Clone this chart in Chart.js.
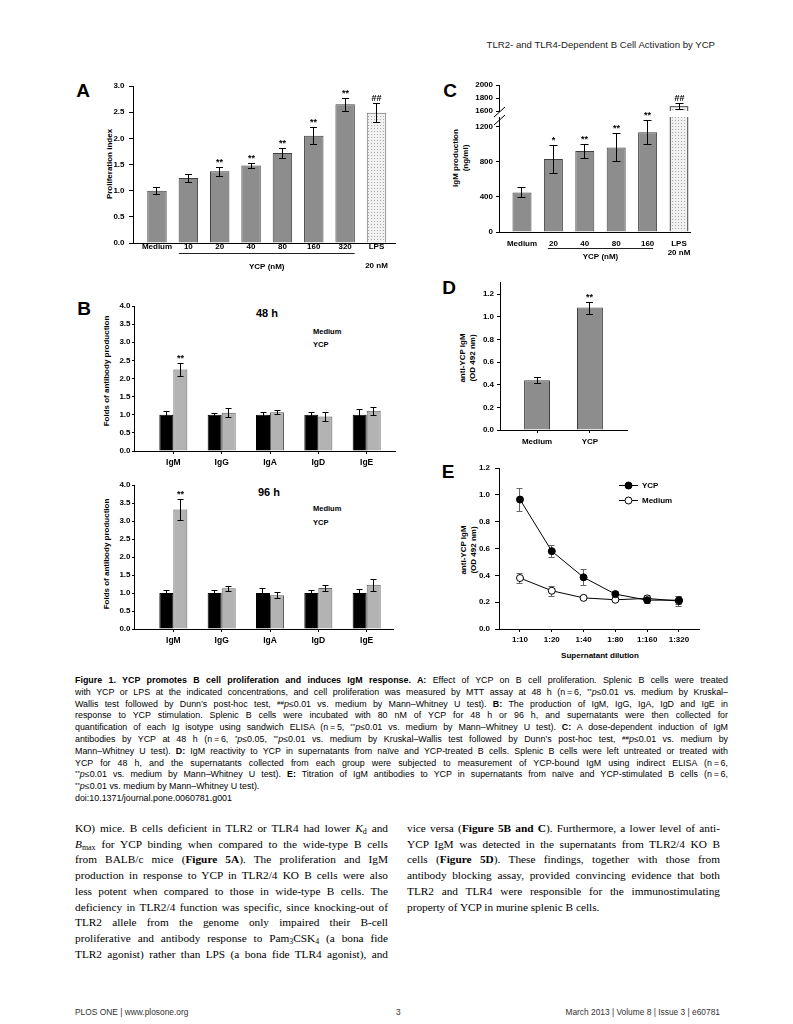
<!DOCTYPE html>
<html>
<head>
<meta charset="utf-8">
<script src="https://cdn.jsdelivr.net/npm/chart.js@4.4.1/dist/chart.umd.min.js"></script>
<style>
  body { margin: 0; background: #fff; }
  #page { position: relative; width: 793px; height: 1024px; overflow: hidden; font-family: "Liberation Sans", Arial, sans-serif; color: #000; }
  .box { position: absolute; }
  .c { position: absolute; transform: translate(-50%, -50%); white-space: nowrap; line-height: 1; }
  .l { position: absolute; transform: translateY(-50%); white-space: nowrap; line-height: 1; }
  .rot { position: absolute; transform: translate(-50%, -50%) rotate(-90deg); white-space: nowrap; text-align: center; font-weight: bold; font-size: 8px; line-height: 10px; }
  .panel { font-weight: bold; font-size: 19px; }
  .cap { position: absolute; left: 75px; font-family: "Liberation Sans", Arial, sans-serif; font-size: 8.9px; line-height: 11.8px; white-space: nowrap; }
  .body { position: absolute; font-family: "Liberation Serif", "Times New Roman", serif; font-size: 11.3px; line-height: 15.7px; white-space: nowrap; }
  .jl { display: inline-block; }
  sup { font-size: 0.7em; vertical-align: 0.4em; line-height: 0; }
  sub { font-size: 0.7em; vertical-align: -0.25em; line-height: 0; }
  .foot { position: absolute; font-size: 8.4px; color: #333; white-space: nowrap; transform: translateY(-50%); }
</style>
</head>
<body>
<div id="page">
  <div class="foot" style="right:78px;top:44px;font-size:9.6px;color:#222">TLR2- and TLR4-Dependent B Cell Activation by YCP</div>

  <div class="c panel" style="left:83px;top:90px">A</div>
  <div class="c panel" style="left:450px;top:90px">C</div>
  <div class="c panel" style="left:84px;top:308px">B</div>
  <div class="c panel" style="left:449px;top:287px">D</div>
  <div class="c panel" style="left:448px;top:471px">E</div>

  <div class="rot" style="left:110px;top:164px">Proliferation index</div>
  <div class="rot" style="left:107px;top:371px">Folds of antibody production</div>
  <div class="rot" style="left:107px;top:554px">Folds of antibody production</div>
  <div class="rot" style="left:461px;top:158px">IgM production<br>(ng/ml)</div>
  <div class="rot" style="left:468px;top:358px">anti-YCP IgM<br>(OD 492 nm)</div>
  <div class="rot" style="left:469px;top:550px">anti-YCP IgM<br>(OD 492 nm)</div>

  <div class="c" style="left:267px;top:313px;font-weight:bold;font-size:11px">48 h</div>
  <div class="l" style="left:313px;top:332px;font-weight:bold;font-size:7.5px">Medium</div>
  <div class="l" style="left:313px;top:345px;font-weight:bold;font-size:7.5px">YCP</div>
  <div class="c" style="left:269px;top:492px;font-weight:bold;font-size:11px">96 h</div>
  <div class="l" style="left:313px;top:509px;font-weight:bold;font-size:7.5px">Medium</div>
  <div class="l" style="left:313px;top:523px;font-weight:bold;font-size:7.5px">YCP</div>
  <div class="c" style="left:600px;top:656px;font-weight:bold;font-size:8px">Supernatant dilution</div>

  <div class="box" id="boxA"><canvas id="cA"></canvas></div>
  <div class="box" id="boxB48"><canvas id="cB48"></canvas></div>
  <div class="box" id="boxB96"><canvas id="cB96"></canvas></div>
  <div class="box" id="boxCu"><canvas id="cCu"></canvas></div>
  <div class="box" id="boxCl"><canvas id="cCl"></canvas></div>
  <div class="box" id="boxD"><canvas id="cD"></canvas></div>
  <div class="box" id="boxE"><canvas id="cE"></canvas></div>

  <div class="cap" style="top:675px">
    <div class="jl"><b>Figure 1. YCP promotes B cell proliferation and induces IgM response. A:</b> Effect of YCP on B cell proliferation. Splenic B cells were treated</div><br>
    <div class="jl">with YCP or LPS at the indicated concentrations, and cell proliferation was measured by MTT assay at 48 h (n&thinsp;=&thinsp;6, <sup>**</sup><i>p</i>≤0.01 vs. medium by Kruskal–</div><br>
    <div class="jl">Wallis test followed by Dunn’s post-hoc test, <sup>##</sup><i>p</i>≤0.01 vs. medium by Mann–Whitney U test). <b>B:</b> The production of IgM, IgG, IgA, IgD and IgE in</div><br>
    <div class="jl">response to YCP stimulation. Splenic B cells were incubated with 80 nM of YCP for 48 h or 96 h, and supernatants were then collected for</div><br>
    <div class="jl">quantification of each Ig isotype using sandwich ELISA (n&thinsp;=&thinsp;5, <sup>**</sup><i>p</i>≤0.01 vs. medium by Mann–Whitney U test). <b>C:</b> A dose-dependent induction of IgM</div><br>
    <div class="jl">antibodies by YCP at 48 h (n&thinsp;=&thinsp;6, <sup>*</sup><i>p</i>≤0.05, <sup>**</sup><i>p</i>≤0.01 vs. medium by Kruskal–Wallis test followed by Dunn’s post-hoc test, <sup>##</sup><i>p</i>≤0.01 vs. medium by</div><br>
    <div class="jl">Mann–Whitney U test). <b>D:</b> IgM reactivity to YCP in supernatants from naïve and YCP-treated B cells. Splenic B cells were left untreated or treated with</div><br>
    <div class="jl">YCP for 48 h, and the supernatants collected from each group were subjected to measurement of YCP-bound IgM using indirect ELISA (n&thinsp;=&thinsp;6,</div><br>
    <div class="jl"><sup>**</sup><i>p</i>≤0.01 vs. medium by Mann–Whitney U test). <b>E:</b> Titration of IgM antibodies to YCP in supernatants from naïve and YCP-stimulated B cells (n&thinsp;=&thinsp;6,</div><br>
    <div><sup>**</sup><i>p</i>≤0.01 vs. medium by Mann–Whitney U test).</div>
    <div>doi:10.1371/journal.pone.0060781.g001</div>
  </div>

  <div class="body" style="left:75px;top:821px">
    <div class="jl">KO) mice. B cells deficient in TLR2 or TLR4 had lower <i>K</i><sub>d</sub> and</div><br>
    <div class="jl"><i>B</i><sub>max</sub> for YCP binding when compared to the wide-type B cells</div><br>
    <div class="jl">from BALB/c mice (<b>Figure 5A</b>). The proliferation and IgM</div><br>
    <div class="jl">production in response to YCP in TLR2/4 KO B cells were also</div><br>
    <div class="jl">less potent when compared to those in wide-type B cells. The</div><br>
    <div class="jl">deficiency in TLR2/4 function was specific, since knocking-out of</div><br>
    <div class="jl">TLR2 allele from the genome only impaired their B-cell</div><br>
    <div class="jl">proliferative and antibody response to Pam<sub>3</sub>CSK<sub>4</sub> (a bona fide</div><br>
    <div class="jl">TLR2 agonist) rather than LPS (a bona fide TLR4 agonist), and</div>
  </div>
  <div class="body" style="left:407px;top:821px">
    <div class="jl">vice versa (<b>Figure 5B and C</b>). Furthermore, a lower level of anti-</div><br>
    <div class="jl">YCP IgM was detected in the supernatants from TLR2/4 KO B</div><br>
    <div class="jl">cells (<b>Figure 5D</b>). These findings, together with those from</div><br>
    <div class="jl">antibody blocking assay, provided convincing evidence that both</div><br>
    <div class="jl">TLR2 and TLR4 were responsible for the immunostimulating</div><br>
    <div>property of YCP in murine splenic B cells.</div>
  </div>

  <div class="foot" style="left:75px;top:1012px">PLOS ONE | www.plosone.org</div>
  <div class="foot" style="left:396px;top:1012px">3</div>
  <div class="foot" style="right:73px;top:1012px">March 2013 | Volume 8 | Issue 3 | e60781</div>
</div>

<script>
// A: proliferation index
const prolifLabels = ['Medium', '10', '20', '40', '80', '160', '320', ['LPS', '', '20 nM']];
const prolifIndex = [1.00, 1.24, 1.37, 1.48, 1.72, 2.05, 2.65, 2.49];
const prolifErr = [0.064, 0.076, 0.086, 0.045, 0.095, 0.16, 0.13, 0.18];
const prolifSig = ['', '', '**', '**', '**', '**', '**', '##'];

// B: isotypes, 48 h and 96 h
const isotypes = ['IgM', 'IgG', 'IgA', 'IgD', 'IgE'];
const medium48 = [1.0, 1.0, 1.0, 1.0, 1.0];
const medium48Err = [0.09, 0.05, 0.08, 0.07, 0.15];
const ycp48 = [2.25, 1.055, 1.07, 0.95, 1.11];
const ycp48Err = [0.17, 0.12, 0.055, 0.12, 0.11];
const medium96 = [1.0, 1.0, 1.0, 1.0, 1.0];
const medium96Err = [0.07, 0.09, 0.13, 0.07, 0.11];
const ycp96 = [3.32, 1.13, 0.94, 1.14, 1.23];
const ycp96Err = [0.3, 0.075, 0.08, 0.075, 0.165];
const isoSig = ['**', '', '', '', ''];

// C: IgM production (ng/ml), broken axis
const igmLabels = ['Medium', '20', '40', '80', '160', ['LPS', '20 nM']];
const igmProd = [450, 830, 922, 962, 1135, 1677];
const igmErr = [57, 162, 82, 160, 137, 43];
const igmSig = ['', '*', '**', '**', '**', '##'];
const igmLowTicks = [0, 400, 800, 1200];
const igmHighTicks = [1600, 1800, 2000];

// D: anti-YCP IgM
const odLabels = ['Medium', 'YCP'];
const odValues = [0.44, 1.08];
const odErr = [0.026, 0.053];
const odSig = ['', '**'];
const odTicks = [0, 0.2, 0.4, 0.6, 0.8, 1.0, 1.2];

// E: titration
const dilutions = ['1:10', '1:20', '1:40', '1:80', '1:160', '1:320'];
const titYCP = [0.965, 0.58, 0.385, 0.26, 0.215, 0.215];
const titYCPErr = [0.083, 0.045, 0.06, 0.025, 0.02, 0.03];
const titMedium = [0.38, 0.285, 0.232, 0.218, 0.228, 0.208];
const titMediumErr = [0.04, 0.037, 0.012, 0.012, 0.022, 0.04];

const xy = arr => arr.map((v, i) => ({x: i, y: v}));

Chart.defaults.font.family = '"Liberation Sans", Arial, sans-serif';
Chart.defaults.font.weight = 'bold';
Chart.defaults.font.size = 8;
Chart.defaults.color = '#000';
Chart.defaults.animation = false;
Chart.defaults.responsive = true;
Chart.defaults.maintainAspectRatio = false;
Chart.defaults.plugins.legend.display = false;
Chart.defaults.plugins.tooltip.enabled = false;

const px = v => Math.round(v) + 0.5;

const errorBars = {
  id: 'errorBars',
  defaults: {cap: 6, color: '#000', behind: false},
  beforeDatasetsDraw(chart, a, o) { if (o.behind) drawErrors(chart, o); },
  afterDatasetsDraw(chart, a, o) { if (!o.behind) drawErrors(chart, o); }
};
function drawErrors(chart, o) {
  const ctx = chart.ctx;
  chart.data.datasets.forEach((ds, di) => {
    if (!ds.errors) return;
    const meta = chart.getDatasetMeta(di);
    const ys = chart.scales[meta.yAxisID];
    meta.data.forEach((el, i) => {
      const v = ds.data[i].y, e = ds.errors[i];
      if (v == null || v < ys.min || v > ys.max) return;
      const x = px(el.x - 0.5);
      const top = px(ys.getPixelForValue(v + e)), bot = px(ys.getPixelForValue(v - e));
      ctx.save();
      ctx.strokeStyle = o.color;
      ctx.lineWidth = 1;
      ctx.beginPath();
      ctx.moveTo(x, top); ctx.lineTo(x, bot);
      ctx.moveTo(x - o.cap / 2, top); ctx.lineTo(x + o.cap / 2, top);
      ctx.moveTo(x - o.cap / 2, bot); ctx.lineTo(x + o.cap / 2, bot);
      ctx.stroke();
      const m = ds.marks && ds.marks[i];
      if (m) {
        ctx.fillStyle = '#000';
        ctx.font = 'bold 9px "Liberation Sans", Arial, sans-serif';
        ctx.textAlign = 'center';
        ctx.textBaseline = 'alphabetic';
        ctx.fillText(m, x, top - 3);
      }
      ctx.restore();
    });
  });
}

const groupLabel = {
  id: 'groupLabel',
  afterDraw(chart, a, o) {
    if (!o.text) return;
    const xs = chart.scales.x, ctx = chart.ctx, b = chart.chartArea.bottom;
    const x0 = xs.getPixelForValue(o.from) - o.ext, x1 = xs.getPixelForValue(o.to) + o.ext;
    ctx.save();
    ctx.strokeStyle = '#222';
    ctx.lineWidth = 1;
    ctx.beginPath();
    ctx.moveTo(x0, px(b + o.lineY)); ctx.lineTo(x1, px(b + o.lineY));
    ctx.stroke();
    ctx.fillStyle = '#000';
    ctx.font = 'bold 8px "Liberation Sans", Arial, sans-serif';
    ctx.textAlign = 'center';
    ctx.textBaseline = 'middle';
    ctx.fillText(o.text, (x0 + x1) / 2, b + o.textY);
    ctx.restore();
  }
};

const axisBreak = {
  id: 'axisBreak',
  afterDraw(chart, a, o) {
    if (!o.edge) return;
    const {left, top, bottom} = chart.chartArea, ctx = chart.ctx;
    const y = (o.edge === 'bottom' ? bottom : top) + o.dy;
    ctx.save();
    ctx.strokeStyle = '#000';
    ctx.lineWidth = 1;
    ctx.beginPath();
    ctx.moveTo(left - 5, y + 5); ctx.lineTo(left + 6, y - 5);
    ctx.stroke();
    ctx.restore();
  }
};

const lineLegend = {
  id: 'lineLegend',
  afterDraw(chart, a, o) {
    if (!o.show) return;
    const {left, top} = chart.chartArea, ctx = chart.ctx;
    chart.data.datasets.forEach((ds, i) => {
      const y = px(top + o.dy + i * o.gap);
      const x0 = left + o.dx;
      ctx.save();
      ctx.strokeStyle = ds.borderColor;
      ctx.lineWidth = 1;
      ctx.beginPath(); ctx.moveTo(x0, y); ctx.lineTo(x0 + o.len, y); ctx.stroke();
      ctx.beginPath();
      ctx.arc(x0 + o.len / 2, y, ds.pointRadius, 0, Math.PI * 2);
      ctx.fillStyle = ds.pointBackgroundColor;
      ctx.fill(); ctx.stroke();
      ctx.fillStyle = '#000';
      ctx.font = 'bold 8px "Liberation Sans", Arial, sans-serif';
      ctx.textBaseline = 'middle';
      ctx.fillText(ds.label, x0 + o.len + 4, y);
      ctx.restore();
    });
  }
};

Chart.register(errorBars, groupLabel, axisBreak, lineLegend);

// position a chart box so its plot area lands on [left, top, right, bottom]
function frame(id, area, yw, xh, pad) {
  const p = Object.assign({top: 10, right: 10, bottom: 0}, pad || {});
  const el = document.getElementById(id);
  el.style.left = (area[0] - yw) + 'px';
  el.style.top = (area[1] - p.top) + 'px';
  el.style.width = (area[2] - area[0] + yw + p.right) + 'px';
  el.style.height = (area[3] - area[1] + p.top + xh + p.bottom) + 'px';
  return {padding: {left: 0, top: p.top, right: p.right, bottom: p.bottom}};
}

function yAxis(o) {
  return {
    type: 'linear', min: o.min, max: o.max,
    border: {display: true, color: '#000', width: 1},
    grid: {display: true, drawOnChartArea: false, drawTicks: true, tickLength: o.tl, color: '#000'},
    ticks: {stepSize: o.step, padding: o.pad, font: {size: o.fs || 8}, autoSkip: false, callback: o.fmt},
    afterBuildTicks: o.ticks ? s => { s.ticks = o.ticks.map(v => ({value: v})); } : undefined,
    afterFit: s => { s.width = o.w; }
  };
}
function xAxis(o) {
  return {
    type: 'linear', min: o.min, max: o.max, offset: false,
    border: {display: o.line !== false, color: '#000', width: 1},
    grid: {display: o.tl > 0, offset: false, drawOnChartArea: false, drawTicks: o.tl > 0, tickLength: o.tl || 0, color: '#000'},
    ticks: {display: !!o.labels, padding: o.pad || 0, font: {size: o.fs || 8, lineHeight: o.lh || 1.2},
            maxRotation: 0, minRotation: 0, autoSkip: false,
            callback: v => (o.labels ? o.labels[v] : '')},
    afterBuildTicks: s => { s.ticks = o.cats.map((c, i) => ({value: i})); },
    afterFit: s => { s.height = o.h; }
  };
}

function dots(canvasId) {
  const t = document.createElement('canvas');
  t.width = 3; t.height = 3;
  const g = t.getContext('2d');
  g.fillStyle = '#f1f1f1'; g.fillRect(0, 0, 3, 3);
  g.fillStyle = '#a9a9a9'; g.fillRect(1, 1, 1, 1);
  return document.getElementById(canvasId).getContext('2d').createPattern(t, 'repeat');
}

const barGrey = '#8d8d8d', barEdge = '#404040', lpsEdge = '#6a6a6a';

// ---- A
new Chart(document.getElementById('cA'), {
  type: 'bar',
  data: {datasets: [{
    data: xy(prolifIndex), errors: prolifErr, marks: prolifSig,
    backgroundColor: prolifIndex.map((v, i) => i === prolifIndex.length - 1 ? dots('cA') : barGrey),
    borderColor: prolifIndex.map((v, i) => i === prolifIndex.length - 1 ? lpsEdge : barEdge),
    borderWidth: 1, barPercentage: 0.62, categoryPercentage: 1
  }]},
  options: {
    layout: frame('boxA', [133, 86, 395, 243], 30, 35),
    scales: {
      x: xAxis({min: -0.765, max: 7.59, cats: prolifLabels, labels: prolifLabels, pad: -1, lh: 1.2, h: 35}),
      y: yAxis({min: 0, max: 3, step: 0.5, tl: 4, pad: 4.5, w: 30, fmt: v => v.toFixed(1)})
    },
    plugins: {errorBars: {cap: 7}, groupLabel: {text: 'YCP (nM)', from: 1, to: 6, ext: 9.5, lineY: 10, textY: 23.5}}
  }
});

// ---- B
function isoChart(canvasId, boxId, area, xmax, med, medErr, ycp, ycpErr) {
  new Chart(document.getElementById(canvasId), {
    type: 'bar',
    data: {datasets: [
      {label: 'Medium', data: xy(med), errors: medErr, backgroundColor: '#000', borderColor: '#000',
       borderWidth: 1, barPercentage: 1, categoryPercentage: 0.58},
      {label: 'YCP', data: xy(ycp), errors: ycpErr, marks: isoSig, backgroundColor: '#b3b3b3', borderColor: '#5e5e5e',
       borderWidth: 1, barPercentage: 1, categoryPercentage: 0.58}
    ]},
    options: {
      layout: frame(boxId, area, 30, 22),
      scales: {
        x: xAxis({min: -0.814, max: xmax, cats: isotypes, labels: isotypes, tl: 3, pad: 4, fs: 8.5, h: 22}),
        y: yAxis({min: 0, max: 4, step: 0.5, tl: 2, pad: 1.5, w: 30, fmt: v => v.toFixed(1)})
      },
      plugins: {errorBars: {cap: 6}}
    }
  });
}
isoChart('cB48', 'boxB48', [134, 306, 395, 451], 4.586, medium48, medium48Err, ycp48, ycp48Err);
isoChart('cB96', 'boxB96', [134, 485, 393, 629], 4.545, medium96, medium96Err, ycp96, ycp96Err);

// ---- C (two parts of one broken axis)
function igmChart(canvasId, boxId, area, yo, xo, extra) {
  return new Chart(document.getElementById(canvasId), {
    type: 'bar',
    data: {datasets: [{
      data: xy(igmProd), errors: igmErr, marks: igmSig, clip: 0,
      backgroundColor: igmProd.map((v, i) => i === igmProd.length - 1 ? dots(canvasId) : barGrey),
      borderColor: igmProd.map((v, i) => i === igmProd.length - 1 ? lpsEdge : barEdge),
      borderWidth: igmProd.map((v, i) => i === igmProd.length - 1 ? 1.5 : 1),
      barPercentage: 0.605, categoryPercentage: 1
    }]},
    options: {
      layout: frame(boxId, area, 32, xo.h, extra.pad),
      scales: {x: xAxis(Object.assign({min: -0.732, max: 5.35, cats: igmLabels}, xo)), y: yAxis(yo)},
      plugins: Object.assign({errorBars: {cap: 8}}, extra.plugins)
    }
  });
}
igmChart('cCu', 'boxCu', [499, 85, 690, 111],
  {min: 1600, max: 2000, ticks: igmHighTicks, tl: 3, pad: 3, w: 32, fmt: v => String(v)},
  {line: false, h: 0},
  {pad: {bottom: 8}, plugins: {axisBreak: {edge: 'bottom', dy: 1}}});
igmChart('cCl', 'boxCl', [499, 117, 690, 232],
  {min: 0, max: 1308, ticks: igmLowTicks, tl: 3, pad: 3, w: 32, fmt: v => String(v)},
  {labels: igmLabels, pad: 7.5, lh: 1.125, h: 32},
  {plugins: {axisBreak: {edge: 'top', dy: 3}, groupLabel: {text: 'YCP (nM)', from: 1, to: 4, ext: 5.5, lineY: 15.5, textY: 25}}});

// ---- D
new Chart(document.getElementById('cD'), {
  type: 'bar',
  data: {datasets: [{
    data: xy(odValues), errors: odErr, marks: odSig,
    backgroundColor: barGrey, borderColor: barEdge, borderWidth: 1, barPercentage: 0.49, categoryPercentage: 1
  }]},
  options: {
    layout: frame('boxD', [500, 282, 627, 430], 30, 20),
    scales: {
      x: xAxis({min: -0.7, max: 1.7, cats: odLabels, labels: odLabels, tl: 3, pad: 4, h: 20}),
      y: yAxis({min: 0, max: 1.306, ticks: odTicks, tl: 3, pad: 3, w: 30, fmt: v => v.toFixed(1)})
    },
    plugins: {errorBars: {cap: 7}}
  }
});

// ---- E
new Chart(document.getElementById('cE'), {
  type: 'line',
  data: {datasets: [
    {label: 'YCP', data: xy(titYCP), errors: titYCPErr, borderColor: '#000', borderWidth: 1,
     pointRadius: 3.5, pointBackgroundColor: '#000', pointBorderColor: '#000', pointBorderWidth: 1, tension: 0},
    {label: 'Medium', data: xy(titMedium), errors: titMediumErr, borderColor: '#000', borderWidth: 1,
     pointRadius: 3.5, pointBackgroundColor: '#fff', pointBorderColor: '#000', pointBorderWidth: 1, tension: 0}
  ]},
  options: {
    layout: frame('boxE', [499, 468, 699, 629], 30, 20),
    scales: {
      x: xAxis({min: -0.66, max: 5.63, cats: dilutions, labels: dilutions, tl: 3, pad: 3.2, h: 20}),
      y: yAxis({min: 0, max: 1.2, step: 0.2, tl: 4, pad: 5, w: 30, fmt: v => v.toFixed(1)})
    },
    plugins: {errorBars: {cap: 6, color: '#666', behind: true},
              lineLegend: {show: true, dx: 120, dy: 17, gap: 15, len: 19}}
  }
});

// justify each text line to its column width through word spacing
function justify(sel, width) {
  document.querySelectorAll(sel).forEach(el => {
    el.style.wordSpacing = '0px';
    const w = el.getBoundingClientRect().width;
    const gaps = (el.textContent.match(/ /g) || []).length;
    if (gaps) el.style.wordSpacing = ((width - w) / gaps) + 'px';
  });
}
justify('.cap .jl', 653);
justify('.body .jl', 313);
</script>
</body>
</html>
